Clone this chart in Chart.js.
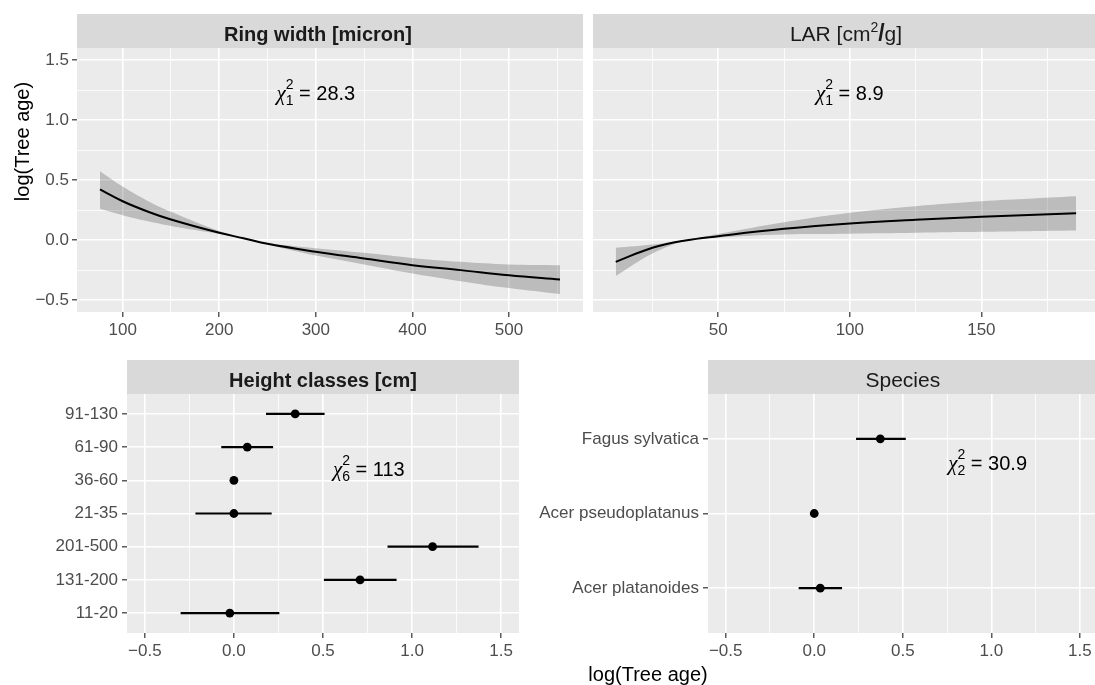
<!DOCTYPE html>
<html>
<head>
<meta charset="utf-8">
<script src="https://cdn.jsdelivr.net/npm/chart.js@4.4.1/dist/chart.umd.min.js"></script>
<style>
  html, body { margin: 0; padding: 0; background: #fff; overflow: hidden; width: 1095px; height: 685px; }
  canvas { position: absolute; }
</style>
</head>
<body>
<canvas id="chartRing" width="590" height="340" style="left:0;top:0"></canvas>
<canvas id="chartLar" width="512" height="340" style="left:590px;top:0"></canvas>
<canvas id="chartAltura" width="490" height="345" style="left:40px;top:340px"></canvas>
<canvas id="chartEspecie" width="572" height="345" style="left:530px;top:340px"></canvas>
<script>
// Curva do ring width
const ringX     = [76.5, 100, 125, 150, 200, 225, 250, 300, 350, 400, 450, 500, 552.8];
const ringFit   = [0.421, 0.323, 0.240, 0.171, 0.060, 0.015, -0.032, -0.098, -0.154, -0.210, -0.251, -0.293, -0.329];
const ringUpper = [0.573, 0.445, 0.330, 0.235, 0.075, 0.018, -0.025, -0.068, -0.107, -0.149, -0.182, -0.204, -0.210];
const ringLower = [0.260, 0.207, 0.158, 0.117, 0.050, 0.012, -0.040, -0.130, -0.204, -0.279, -0.343, -0.401, -0.451];

// Curva do LAR
const larX     = [11.05, 25, 37.5, 50, 75, 100, 125, 150, 186];
const larFit   = [-0.182, -0.065, -0.004, 0.032, 0.093, 0.1375, 0.168, 0.193, 0.223];
const larUpper = [-0.065, -0.0375, 0.000, 0.051, 0.148, 0.227, 0.282, 0.323, 0.365];
const larLower = [-0.301, -0.1125, -0.008, 0.021, 0.046, 0.052, 0.060, 0.068, 0.079];

// Classes de altura (de baixo para cima)
const alturaClasses = ['11-20', '131-200', '201-500', '21-35', '36-60', '61-90', '91-130'];
const alturaEst  = [-0.023, 0.708, 1.115, 0.000, 0.000, 0.075, 0.344];
const alturaLow  = [-0.299, 0.505, 0.862, -0.216, 0.000, -0.071, 0.180];
const alturaHigh = [0.255, 0.913, 1.373, 0.212, 0.000, 0.220, 0.509];

// Espécies (de baixo para cima)
const especies   = ['Acer platanoides', 'Acer pseudoplatanus', 'Fagus sylvatica'];
const especieEst  = [0.034, 0.000, 0.373];
const especieLow  = [-0.088, 0.000, 0.236];
const especieHigh = [0.157, 0.000, 0.517];

// Ticks
const logTicks  = [-0.5, 0, 0.5, 1, 1.5];
const ringTicks = [100, 200, 300, 400, 500];
const larTicks  = [50, 100, 150];

// Estatísticas qui-quadrado
const chiGl    = [1, 1, 6, 2];
const chiValor = ['28.3', '8.9', '113', '30.9'];

const FONTE = '"Liberation Sans", Arial, sans-serif';
const fmtLog = v => (Math.abs(v) < 1e-9 ? 0 : v).toFixed(1).replace('-', '\u2212');

function eixoLinear(min, max, majors, opts) {
    const step = majors[1] - majors[0];
    const vals = [majors[0] - step / 2];
    majors.forEach(v => vals.push(v, v + step / 2));
    const isMajor = v => majors.some(m => Math.abs(m - v) < 1e-9);
    return {
        type: 'linear', min: min, max: max,
        afterBuildTicks: s => { s.ticks = vals.filter(v => v >= min && v <= max).map(v => ({ value: v })); },
        afterFit: s => {
            if (opts.width !== undefined) s.width = opts.width;
            if (opts.height !== undefined) s.height = opts.height;
        },
        border: { display: false },
        grid: {
            color: '#FFFFFF',
            lineWidth: c => isMajor(c.tick.value) ? 1.6 : 0.8,
            drawTicks: !!opts.labels,
            tickLength: 5,
            tickWidth: 1.2,
            tickColor: c => isMajor(c.tick.value) ? '#333333' : 'rgba(0,0,0,0)'
        },
        ticks: {
            display: !!opts.labels,
            autoSkip: false, maxRotation: 0, minRotation: 0,
            padding: 3,
            color: '#4D4D4D',
            font: { family: FONTE, size: 17 },
            callback: v => isMajor(v) ? opts.fmt(v) : ''
        }
    };
}

function eixoCategorias(nomes, width) {
    return {
        type: 'linear', min: 0.4, max: nomes.length + 0.6,
        afterBuildTicks: s => { s.ticks = nomes.map((n, i) => ({ value: i + 1 })); },
        afterFit: s => { s.width = width; },
        border: { display: false },
        grid: { color: '#FFFFFF', lineWidth: 1.6, tickLength: 5, tickWidth: 1.2, tickColor: '#333333' },
        ticks: {
            autoSkip: false, padding: 4, color: '#4D4D4D',
            font: { family: FONTE, size: 17 },
            callback: v => nomes[Math.round(v) - 1] || ''
        }
    };
}

function curvaDatasets(xs, fit, up, low) {
    const pts = arr => arr.map((v, i) => ({ x: xs[i], y: v }));
    return [
        { data: pts(up), borderColor: 'transparent', borderWidth: 0, pointRadius: 0, fill: false, tension: 0.4, order: 2 },
        { data: pts(low), borderColor: 'transparent', borderWidth: 0, pointRadius: 0, fill: '-1', backgroundColor: 'rgba(0,0,0,0.2)', tension: 0.4, order: 2 },
        { data: pts(fit), borderColor: '#000000', borderWidth: 2, pointRadius: 0, fill: false, tension: 0.4, order: 0 }
    ];
}

function pontosDatasets(est, lo, hi) {
    const barras = est.map((v, i) => ({
        data: [{ x: lo[i], y: i + 1 }, { x: hi[i], y: i + 1 }],
        showLine: true, borderColor: '#000000', borderWidth: 2.2, pointRadius: 0, order: 1
    }));
    barras.push({
        data: est.map((v, i) => ({ x: v, y: i + 1 })),
        pointRadius: 4.4, pointBackgroundColor: '#000000', pointBorderWidth: 0, order: 0
    });
    return barras;
}

function fonteParte(p) {
    return (p.bold ? 'bold ' : '') + p.size + 'px ' + (p.familia || FONTE);
}

function escreveChi(ctx, cx, cy, gl, valor) {
    const base = cy + 7.2;
    ctx.fillStyle = '#000000';
    ctx.textAlign = 'left';
    ctx.textBaseline = 'alphabetic';
    ctx.font = 'italic 21px "Liberation Serif", serif';
    const wChi = ctx.measureText('\u03C7').width;
    ctx.font = '14px ' + FONTE;
    const wIdx = Math.max(ctx.measureText('2').width, ctx.measureText(String(gl)).width);
    ctx.font = '20px ' + FONTE;
    const resto = ' = ' + valor;
    const wResto = ctx.measureText(resto).width;
    let x = cx - (wChi + wIdx + wResto) / 2;
    ctx.font = 'italic 21px "Liberation Serif", serif';
    ctx.fillText('\u03C7', x, base);
    x += wChi;
    ctx.font = '14px ' + FONTE;
    ctx.fillText('2', x, base - 11);
    ctx.fillText(String(gl), x, base + 5.5);
    x += wIdx;
    ctx.font = '20px ' + FONTE;
    ctx.fillText(resto, x, base);
}

const painel = {
    id: 'painel',
    beforeDraw(chart, args, o) {
        const { ctx, chartArea: a } = chart;
        ctx.save();
        ctx.fillStyle = '#EBEBEB';
        ctx.fillRect(a.left, a.top, a.right - a.left, a.bottom - a.top);
        ctx.fillStyle = '#D9D9D9';
        ctx.fillRect(a.left, a.top - 34, a.right - a.left, 34);
        // título da faixa
        let total = 0;
        o.titulo.forEach(p => { ctx.font = fonteParte(p); p.w = ctx.measureText(p.t).width; total += p.w; });
        let x = (a.left + a.right) / 2 + (o.deslocamento || 0) - total / 2;
        ctx.fillStyle = '#1A1A1A';
        ctx.textAlign = 'left';
        ctx.textBaseline = 'alphabetic';
        o.titulo.forEach(p => {
            ctx.font = fonteParte(p);
            ctx.fillText(p.t, x, a.top - 7.5 + (p.dy || 0));
            x += p.w;
        });
        ctx.restore();
    },
    afterDatasetsDraw(chart, args, o) {
        if (!o.chi) return;
        const ctx = chart.ctx;
        ctx.save();
        escreveChi(ctx, chart.scales.x.getPixelForValue(o.chi.x), chart.scales.y.getPixelForValue(o.chi.y), o.chi.gl, o.chi.valor);
        ctx.restore();
    },
    afterDraw(chart, args, o) {
        if (!o.textos) return;
        const ctx = chart.ctx;
        o.textos.forEach(t => {
            ctx.save();
            ctx.translate(t.x, t.y);
            ctx.rotate(t.rot || 0);
            ctx.fillStyle = '#000000';
            ctx.font = '20px ' + FONTE;
            ctx.textAlign = 'center';
            ctx.textBaseline = 'middle';
            ctx.fillText(t.t, 0, 0);
            ctx.restore();
        });
    }
};

function opcoesBase(padding, painelOpts, scales) {
    return {
        responsive: false,
        animation: false,
        events: [],
        layout: { padding: padding },
        plugins: { legend: { display: false }, tooltip: { enabled: false }, painel: painelOpts },
        scales: scales
    };
}

new Chart(document.getElementById('chartRing'), {
    type: 'line',
    data: { datasets: curvaDatasets(ringX, ringFit, ringUpper, ringLower) },
    options: opcoesBase({ left: 0, top: 48, right: 7, bottom: 0 }, {
        titulo: [{ t: 'Ring width [micron]', size: 20, bold: true }],
        deslocamento: -12,
        chi: { x: 300, y: 1.23, gl: chiGl[0], valor: chiValor[0] },
        textos: [{ t: 'log(Tree age)', x: 23, y: 141.5, rot: -Math.PI / 2 }]
    }, {
        x: eixoLinear(52.7, 576.6, ringTicks, { labels: true, height: 28, fmt: String }),
        y: eixoLinear(-0.6, 1.6, logTicks, { labels: true, width: 77, fmt: fmtLog })
    }),
    plugins: [painel]
});

new Chart(document.getElementById('chartLar'), {
    type: 'line',
    data: { datasets: curvaDatasets(larX, larFit, larUpper, larLower) },
    options: opcoesBase({ left: 3, top: 48, right: 3, bottom: 0 }, {
        titulo: [
            { t: 'LAR [cm', size: 21 },
            { t: '2', size: 14, dy: -9 },
            { t: '/', size: 23, bold: true },
            { t: 'g]', size: 21 }
        ],
        chi: { x: 100, y: 1.23, gl: chiGl[1], valor: chiValor[1] }
    }, {
        x: eixoLinear(2.4, 194.7, larTicks, { labels: true, height: 28, fmt: String }),
        y: eixoLinear(-0.6, 1.6, logTicks, { labels: false, width: 0, fmt: fmtLog })
    }),
    plugins: [painel]
});

new Chart(document.getElementById('chartAltura'), {
    type: 'scatter',
    data: { datasets: pontosDatasets(alturaEst, alturaLow, alturaHigh) },
    options: opcoesBase({ left: 0, top: 54, right: 11, bottom: 0 }, {
        titulo: [{ t: 'Height classes [cm]', size: 20, bold: true }],
        chi: { x: 0.757, y: 5.35, gl: chiGl[2], valor: chiValor[2] }
    }, {
        x: eixoLinear(-0.6, 1.6, logTicks, { labels: true, height: 52, fmt: fmtLog }),
        y: eixoCategorias(alturaClasses, 87)
    }),
    plugins: [painel]
});

new Chart(document.getElementById('chartEspecie'), {
    type: 'scatter',
    data: { datasets: pontosDatasets(especieEst, especieLow, especieHigh) },
    options: opcoesBase({ left: 0, top: 54, right: 3, bottom: 0 }, {
        titulo: [{ t: 'Species', size: 21 }],
        chi: { x: 0.979, y: 2.68, gl: chiGl[3], valor: chiValor[3] },
        textos: [{ t: 'log(Tree age)', x: 118, y: 335 }]
    }, {
        x: eixoLinear(-0.6, 1.6, logTicks, { labels: true, height: 52, fmt: fmtLog }),
        y: eixoCategorias(especies, 178)
    }),
    plugins: [painel]
});
</script>
</body>
</html>
